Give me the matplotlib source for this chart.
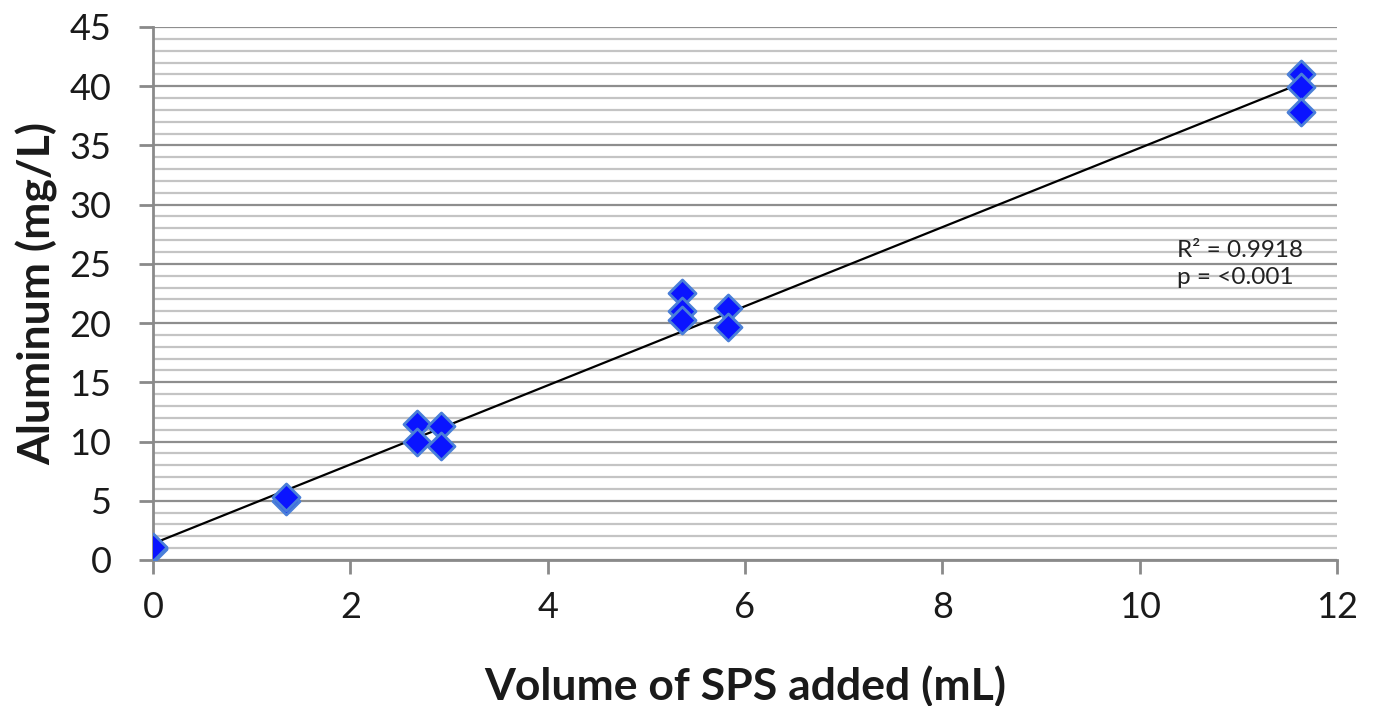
import numpy as np
import matplotlib.pyplot as plt
from matplotlib.ticker import MultipleLocator

# volume of SPS added (mL) and measured aluminum (mg/L)
sps_ml = [0.0, 0.0, 0.0, 1.35, 1.35, 2.68, 2.68, 2.92, 2.92,
          5.36, 5.36, 5.36, 5.83, 5.83, 11.64, 11.64, 11.64]
al_mgl = [1.0, 0.9, 1.1, 5.0, 5.3, 11.5, 10.0, 11.3, 9.6,
          22.5, 21.0, 20.3, 21.3, 19.7, 41.0, 39.9, 37.8]

xticks = [0, 2, 4, 6, 8, 10, 12]
yticks = [0, 5, 10, 15, 20, 25, 30, 35, 40, 45]
stats_text = 'R² = 0.9918\np = <0.001'

plt.rcParams['font.family'] = ['Lato', 'DejaVu Sans']

fig = plt.figure(figsize=(13.74, 7.06), dpi=100)
ax = fig.add_axes([0.1114, 0.2068, 0.8616, 0.755])

ax.set_xlim(0, 12)
ax.set_ylim(0, 45)
ax.set_xticks(xticks)
ax.set_yticks(yticks)
ax.yaxis.set_minor_locator(MultipleLocator(1))

ax.grid(True, which='minor', axis='y', color='#c4c4c4', lw=1.6, zorder=0)
ax.grid(True, which='major', axis='y', color='#8e8e8e', lw=1.6, zorder=0)
ax.set_axisbelow(True)

for s in ['top', 'right']:
    ax.spines[s].set_visible(False)
for s in ['left', 'bottom']:
    ax.spines[s].set_color('#8a8a8a')
    ax.spines[s].set_linewidth(2)

ax.tick_params(axis='both', which='major', length=10, width=2, color='#8a8a8a',
               labelsize=26, labelcolor='#1a1a1a')
ax.tick_params(axis='y', which='minor', length=0)
ax.tick_params(axis='x', pad=12)
ax.tick_params(axis='y', pad=20)

# linear trendline
slope, icpt = np.polyfit(sps_ml, al_mgl, 1)
xf = np.array([min(sps_ml), max(sps_ml)])
ax.plot(xf, slope * xf + icpt, color='black', lw=1.6, zorder=3)

ax.scatter(sps_ml, al_mgl, marker='D', s=190, facecolor='#0a14ff',
           edgecolor='#4a7fd8', linewidth=2.0, zorder=4)

ax.text(0.865, 0.555, stats_text, transform=ax.transAxes, fontsize=17.5,
        color='#222222', ha='left', va='center', linespacing=1.35)

ax.set_xlabel('Volume of SPS added (mL)', fontsize=32, fontweight='bold', labelpad=30,
              color='#1a1a1a')
ax.set_ylabel('Aluminum (mg/L)', fontsize=32, fontweight='bold', labelpad=8,
              color='#1a1a1a')

fig.savefig('out.png', dpi=100)
